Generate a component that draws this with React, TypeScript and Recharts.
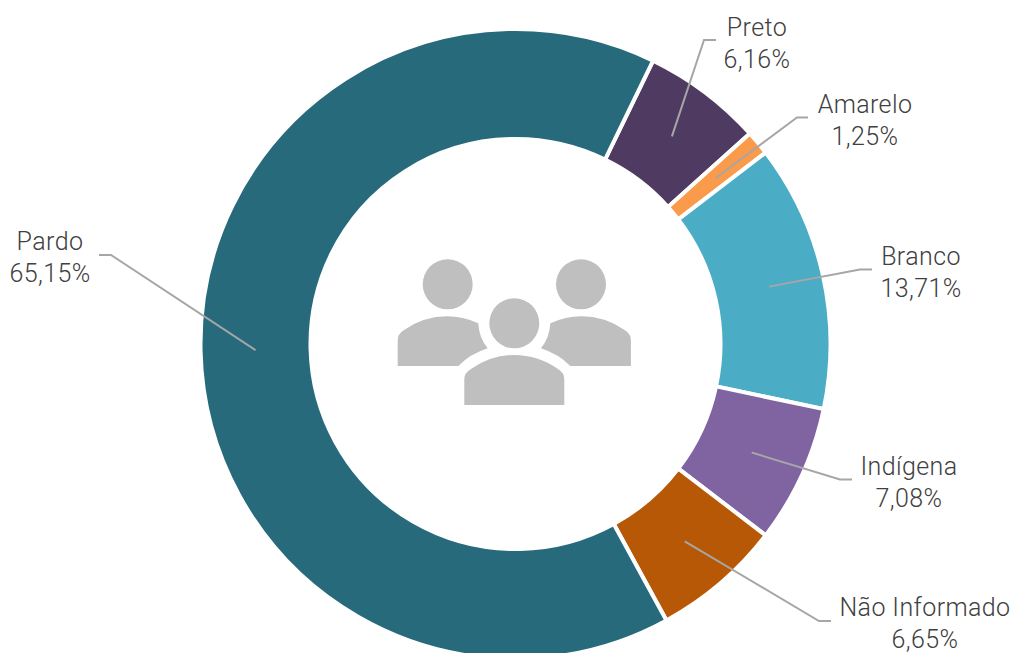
import { PieChart, Pie, Cell } from "recharts";

const CATEGORIES = ["Preto", "Amarelo", "Branco", "Indígena", "Não Informado", "Pardo"];
const VALUES = [6.16, 1.25, 13.71, 7.08, 6.65, 65.15];
const COLORS = ["#4f3b62", "#f99b4a", "#4bacc6", "#8064a2", "#b75807", "#276a7c"];

// where each leader line bends, ends, and where its text is centred
const LEADERS: Record<string, { elbow: [number, number]; end: number; text: [number, number] }> = {
  Preto: { elbow: [704, 40], end: 716, text: [757, 36] },
  Amarelo: { elbow: [797, 117.5], end: 808, text: [865, 113] },
  Branco: { elbow: [860, 269.5], end: 872, text: [921, 265] },
  "Indígena": { elbow: [840, 479.5], end: 852, text: [909, 475] },
  "Não Informado": { elbow: [819, 621], end: 831, text: [925, 616] },
  Pardo: { elbow: [111, 255], end: 99, text: [50, 250] },
};

const data = CATEGORIES.map((name, i) => ({ name, value: VALUES[i] }));

const FONT = "Roboto, sans-serif";
const START = 64.1;

function renderLabel(props: any) {
  const { cx, cy, midAngle, innerRadius, outerRadius, name, value } = props;
  const l = LEADERS[name];
  const r = (innerRadius + outerRadius) / 2;
  const rad = (midAngle * Math.PI) / 180;
  const x0 = cx + r * Math.cos(rad);
  const y0 = cy - r * Math.sin(rad);
  return (
    <g key={name}>
      <polyline
        points={`${x0},${y0} ${l.elbow[0]},${l.elbow[1]} ${l.end},${l.elbow[1]}`}
        fill="none"
        stroke="#a6a6a6"
        strokeWidth={2}
      />
      <text
        x={l.text[0]}
        y={l.text[1]}
        textAnchor="middle"
        fontFamily={FONT}
        fontWeight={300}
        fontSize={25}
        letterSpacing={0.4}
        fill="#404040"
      >
        <tspan x={l.text[0]}>{name}</tspan>
        <tspan x={l.text[0]} dy={32}>
          {value.toFixed(2).replace(".", ",")}%
        </tspan>
      </text>
    </g>
  );
}

function PeopleIcon() {
  const body =
    "M397.7 366 L397.7 340 Q397.7 334 404 330 Q424 316.3 447 316.3 Q463 316.3 478.3 323.3 Q479 338 487.7 348.3 Q470 354 458.3 366 Z";
  return (
    <g fill="#bfbfbf">
      <circle cx={447.7} cy={284.3} r={25} />
      <circle cx={581} cy={284.3} r={25} />
      <circle cx={514.3} cy={323.3} r={25} />
      <path d={body} />
      <path d={body} transform="matrix(-1 0 0 1 1028.6 0)" />
      <path d="M464.3 405 L464.3 379 Q464.3 373 471 369 Q491 355 514.3 355 Q538 355 558 369 Q564.3 373 564.3 379 L564.3 405 Z" />
    </g>
  );
}

export default function App() {
  return (
    <div style={{ position: "absolute", left: 0, top: 0, width: 1012, height: 653, overflow: "hidden" }}>
      <PieChart width={1012} height={653} margin={{ top: 0, right: 0, bottom: 0, left: 0 }}>
        <Pie
          data={data}
          dataKey="value"
          nameKey="name"
          cx={515.5}
          cy={344}
          innerRadius={205}
          outerRadius={315}
          startAngle={START}
          endAngle={START - 360}
          stroke="#ffffff"
          strokeWidth={4}
          label={renderLabel}
          labelLine={false}
          isAnimationActive={false}
        >
          {data.map((d, i) => (
            <Cell key={d.name} fill={COLORS[i]} />
          ))}
        </Pie>
        <PeopleIcon />
      </PieChart>
    </div>
  );
}
